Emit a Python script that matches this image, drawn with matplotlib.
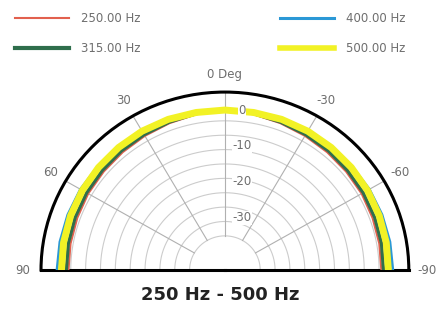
import numpy as np
import matplotlib
matplotlib.use("Agg")
import matplotlib.pyplot as plt
import matplotlib.transforms as mtransforms

plt.rcParams['font.family'] = ['DejaVu Sans']

# angles in degrees (0 = on axis, positive to the left)
angles = [-90, -80, -70, -60, -50, -40, -30, -20, -10, 0, 10, 20, 30, 40, 50, 60, 70, 80, 90]
# level in dB per frequency
spl_250 = [-2.4, -2.3, -2.2, -2.0, -1.9, -1.7, -1.4, -1.0, -0.5, 0.0,
           -0.5, -1.0, -1.4, -1.7, -1.9, -2.0, -2.2, -2.3, -2.4]
spl_315 = [-1.8, -1.7, -1.6, -1.5, -1.4, -1.2, -1.0, -0.7, -0.3, 0.0,
           -0.3, -0.7, -1.0, -1.2, -1.4, -1.5, -1.6, -1.7, -1.8]
spl_400 = [0.7, 0.6, 0.5, 0.4, 0.2, 0.0, -0.2, -0.1, -0.1, 0.0,
           -0.1, -0.1, -0.2, 0.0, 0.2, 0.4, 0.5, 0.6, 0.7]
spl_500 = [-0.5, -0.4, -0.3, -0.2, -0.1, 0.0, 0.1, 0.1, 0.0, 0.0,
           0.0, 0.1, 0.1, 0.0, -0.1, -0.2, -0.3, -0.4, -0.5]
labels = ['250.00 Hz', '315.00 Hz', '400.00 Hz', '500.00 Hz']

r_min, r_max = -44.5, 5
grid_levels = np.arange(-35, 1, 4)
spoke_angles = [-60, -30, 0, 30, 60]
rlabel_levels = [0, -10, -20, -30]
theta_labels = {0: '0 Deg', 30: '30', -30: '-30', 60: '60', -60: '-60', 90: '90', -90: '-90'}

txt_color = '#6e6e6e'

fig = plt.figure(figsize=(4.41, 3.10), dpi=100)
# half disc only uses the middle half of the axes height
ax = fig.add_axes([0.093, -0.158, 0.834, 1.148], projection='polar')
ax.set_theta_zero_location('N')
ax.set_theta_direction(1)
ax.set_thetamin(-90)
ax.set_thetamax(90)
ax.set_rlim(r_min, r_max)
ax.set_aspect('auto')
ax.grid(False)
ax.set_xticks([])
ax.set_yticks([])

# grid
th = np.radians(np.linspace(-90, 90, 361))
for lv in grid_levels:
    ax.plot(th, np.full_like(th, lv), color='#cccccc', lw=0.8, zorder=1)
for a in spoke_angles:
    ax.plot([np.radians(a)] * 2, [grid_levels[0], r_max], color='#b0b0b0', lw=0.8, zorder=1)

# curves
th_d = np.radians(angles)
ax.plot(th_d, spl_250, color='#e2604e', lw=1.5, zorder=3, label=labels[0])
ax.plot(th_d, spl_315, color='#2f6e4c', lw=2.4, zorder=3, label=labels[1])
ax.plot(th_d, spl_400, color='#2b98d6', lw=2.0, zorder=3, label=labels[2])
ax.plot(th_d, spl_500, color='#f2f225', lw=5.0, zorder=4, label=labels[3])

for s in ['polar', 'start', 'end']:
    ax.spines[s].set_linewidth(2.2)
    ax.spines[s].set_color('black')

# radial labels just right of the 0 deg line
off = mtransforms.ScaledTranslation(0.17, 0, fig.dpi_scale_trans)
for lv in rlabel_levels:
    ax.text(0, lv, str(lv), transform=ax.transData + off, fontsize=8.5, color=txt_color,
            ha='center', va='center', zorder=5,
            bbox=dict(facecolor='white', edgecolor='none', pad=0.5))

# angle labels
for a, txt in theta_labels.items():
    ax.text(np.radians(a), 9.8, txt, fontsize=8.5, color=txt_color,
            ha='center', va='center', clip_on=False)

leg = fig.legend(loc='upper left', bbox_to_anchor=(0.01, 0.995), ncol=2, frameon=False,
                 fontsize=8.5, handlelength=4.6, columnspacing=11.8, labelspacing=1.45,
                 handletextpad=1.0, labelcolor=txt_color)
for line, lw in zip(leg.get_lines(), [1.5, 3.0, 2.2, 4.0]):
    line.set_linewidth(lw)

fig.text(0.5, 1 - 295 / 310, '250 Hz - 500 Hz', ha='center', va='center',
         fontsize=13, fontweight='bold', color='#222222')

fig.savefig('out.png', dpi=100)
